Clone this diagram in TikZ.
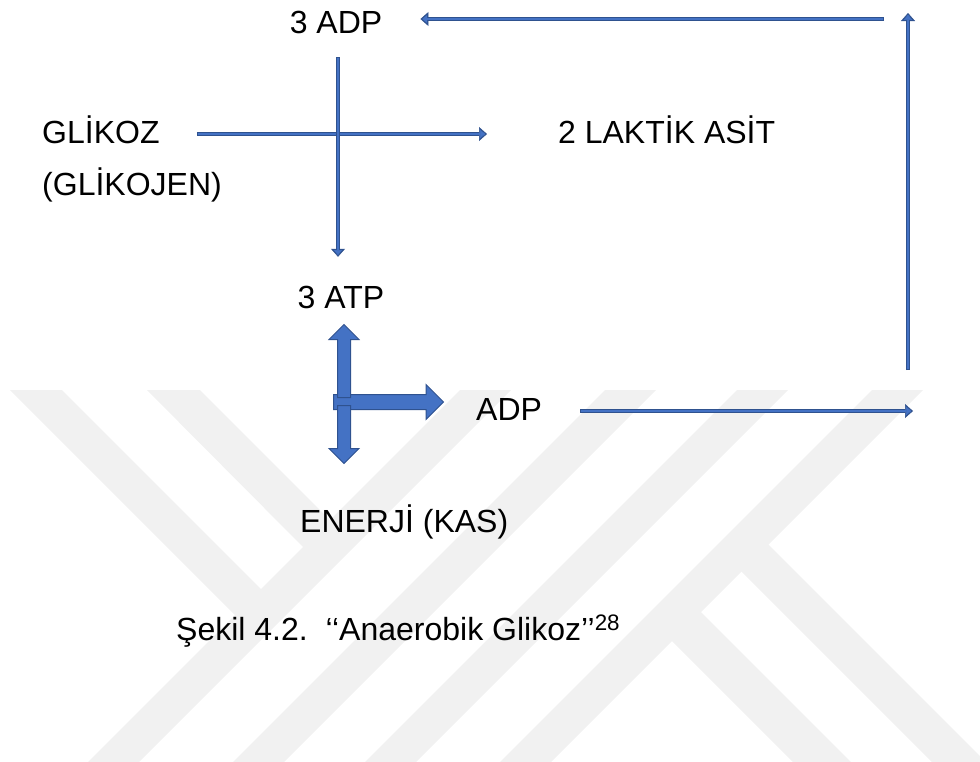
\documentclass[tikz,border=0pt]{standalone}
\usepackage{fontspec}
\setmainfont{Liberation Sans}
\usetikzlibrary{arrows.meta,shapes.arrows,calc}
\definecolor{edgeblue}{HTML}{2F528F}
\definecolor{fillblue}{HTML}{4472C4}
\definecolor{markgray}{HTML}{F1F1F1}

\begin{document}
\begin{tikzpicture}[x=1pt,y=-1pt]
\tikzstyle{txt} = [inner sep=0pt, text height=21pt, text depth=0pt, font=\fontsize{32}{38}\selectfont]
\tikzstyle{thinarrow} = [draw=edgeblue, line width=4.8pt, -{Triangle[length=8pt,width=14pt,line width=0.5pt]},
  postaction={draw=fillblue, line width=1.2pt, shorten <=1.2pt, shorten >=1.8pt, -{Triangle[length=5pt,width=8pt,line width=0.5pt]}}]
\tikzstyle{blockarrow} = [single arrow, draw=edgeblue, fill=fillblue, line width=1pt, anchor=tail]
\useasboundingbox (0,0) rectangle (980,761);

% faint background mark
\begin{scope}
\clip (0,390) rectangle (980,761);
\foreach \c in {850,995,1127,1262}
  \fill[markgray] ({\c-380},380) -- ({\c+51-380},380) -- ({\c+51-770},770) -- ({\c-770},770) -- cycle;
\fill[markgray] (0,380) -- (52,380) -- (266,594) -- (240,620) -- cycle;
\fill[markgray] (137,380) -- (190,380) -- (335,525) -- (308,552) -- cycle;
\fill[markgray] (667,636) -- (696,607) -- (1045,956) -- (1016,985) -- cycle;
\fill[markgray] (737,567) -- (764,540) -- (1112,888) -- (1085,915) -- cycle;
\end{scope}

% labels
\node[txt, anchor=base] (adp3) at (336,33) {3 ADP};
\node[txt, anchor=base west] (glikoz) at (42,143) {GLİKOZ};
\node[txt, anchor=base west] (glikojen) at (42,195) {(GLİKOJEN)};
\node[txt, anchor=base west] (laktik) at (558,143) {2 LAKTİK ASİT};
\node[txt, anchor=base] (atp3) at (341,308) {3 ATP};
\node[txt, anchor=base west] (adp) at (476,420) {ADP};
\node[txt, anchor=base west] (enerji) at (300,532) {ENERJİ (KAS)};
\node[txt, anchor=base west] (sekil) at (176,640) {Şekil 4.2.\ \ ‘‘Anaerobik Glikoz’’\textsuperscript{28}};

% return loop corners
\coordinate (ret0) at (913,411);
\coordinate (ret1) at (908,370);
\coordinate (ret2) at (908,13);
\coordinate (ret3) at (884,19);

% thin arrows
\draw[thinarrow] ($(glikoz.east)+(37,1.5)$) -- ($(laktik.west)+(-71,1.5)$);
\draw[thinarrow] ($(adp3.south)+(2,24)$) -- ($(adp3.south |- atp3.north)+(2,-30)$);
\draw[thinarrow] ($(adp.east |- ret0)+(38,0)$) -- (ret0);
\draw[thinarrow] (ret1) -- (ret2);
\draw[thinarrow] (ret3) -- ($(adp3.east |- ret3)+(38,0)$);

% block arrows under 3 ATP
\node[blockarrow, inner sep=7pt, single arrow head extend=10pt, minimum height=110pt] (toadp) at (333,402) {};
\node[blockarrow, rotate=90, inner sep=6pt, single arrow head extend=8.5pt, minimum height=73pt] (toatp) at (344,398) {};
\node[blockarrow, rotate=-90, inner sep=6pt, single arrow head extend=8.5pt, minimum height=58pt] (toenerji) at (344,405) {};
\end{tikzpicture}
\end{document}
